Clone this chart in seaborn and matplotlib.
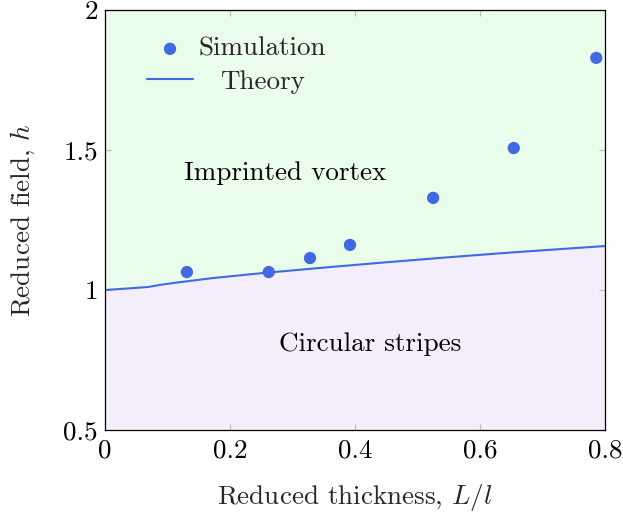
import numpy as np
import pandas as pd
import matplotlib
matplotlib.use("Agg")
import matplotlib.pyplot as plt
import seaborn as sns

# ---- data ----
sim_x = [0.131, 0.262, 0.328, 0.392, 0.525, 0.654, 0.786]
sim_y = [1.064, 1.064, 1.114, 1.161, 1.329, 1.507, 1.829]
theory_x = [0.0, 0.04, 0.07, 0.09, 0.12, 0.17, 0.25, 0.35, 0.45, 0.55, 0.65, 0.8]
theory_y = [1.0, 1.006, 1.011, 1.019, 1.028, 1.042, 1.060, 1.080, 1.099, 1.117, 1.134, 1.157]
xticks = [0, 0.2, 0.4, 0.6, 0.8]
xticklabels = ["0", "0.2", "0.4", "0.6", "0.8"]
yticks = [0.5, 1, 1.5, 2]
yticklabels = ["0.5", "1", "1.5", "2"]
region_labels = ["Imprinted vortex", "Circular stripes"]
region_pos = [(0.288, 1.418), (0.424, 0.807)]

sns.set_theme(style="ticks")
plt.rcParams["font.family"] = ["cmr10", "DejaVu Serif"]
plt.rcParams["mathtext.fontset"] = "cm"
plt.rcParams["axes.formatter.use_mathtext"] = True
FS = 19.5

blue = "#4169E1"
green = "#EAFCEA"
purple = "#F4EDFC"

fig = plt.figure(figsize=(6.23, 5.16), dpi=100)
ax = fig.add_axes([105/623, 1-430/516, 500/623, 420/516])

ymin, ymax = 0.5, 2.0
ax.fill_between(theory_x, theory_y, ymax, color=green, lw=0, zorder=0)
ax.fill_between(theory_x, ymin, theory_y, color=purple, lw=0, zorder=0)

sim_df = pd.DataFrame({"x": sim_x, "y": sim_y})
th_df = pd.DataFrame({"x": theory_x, "y": theory_y})
sns.scatterplot(data=sim_df, x="x", y="y", ax=ax, color=blue, s=78,
                edgecolor="none", label="Simulation", zorder=3)
sns.lineplot(data=th_df, x="x", y="y", ax=ax, color=blue, lw=1.5,
             label="Theory", zorder=2)

for t, (px, py) in zip(region_labels, region_pos):
    ax.text(px, py, t, ha="center", va="center", fontsize=FS, color="black")

ax.set_xlim(0, 0.8)
ax.set_ylim(ymin, ymax)
ax.set_xticks(xticks)
ax.set_xticklabels(xticklabels)
ax.set_yticks(yticks)
ax.set_yticklabels(yticklabels)
ax.tick_params(direction="in", length=4.5, width=0.8, color="#bbbbbb",
               labelsize=FS, top=True, right=True, labelcolor="black")
ax.tick_params(axis="x", pad=6.5)
ax.tick_params(axis="y", pad=5)
for s in ax.spines.values():
    s.set_color("black")
    s.set_linewidth(0.9)
ax.set_xlabel(r"Reduced thickness, $L/l$", fontsize=FS, labelpad=14)
ax.set_ylabel(r"Reduced field, $h$", fontsize=FS, labelpad=19)

leg = ax.legend(loc="upper left", bbox_to_anchor=(42/500, 1-27/420), frameon=False,
                fontsize=FS, handlelength=1.7, handletextpad=0.22,
                borderpad=0, borderaxespad=0, labelspacing=0.33, markerscale=1.0)

# center legend texts like pgfplots
fig.canvas.draw()
r = fig.canvas.get_renderer()
texts = leg.get_texts()
w = [t.get_window_extent(r).width for t in texts]
col = leg._legend_handle_box.get_children()[0]
for row, wi in zip(col.get_children(), w):
    row.sep += (max(w) - wi) / 2 * 72 / fig.dpi

fig.savefig("out.png", dpi=100)
